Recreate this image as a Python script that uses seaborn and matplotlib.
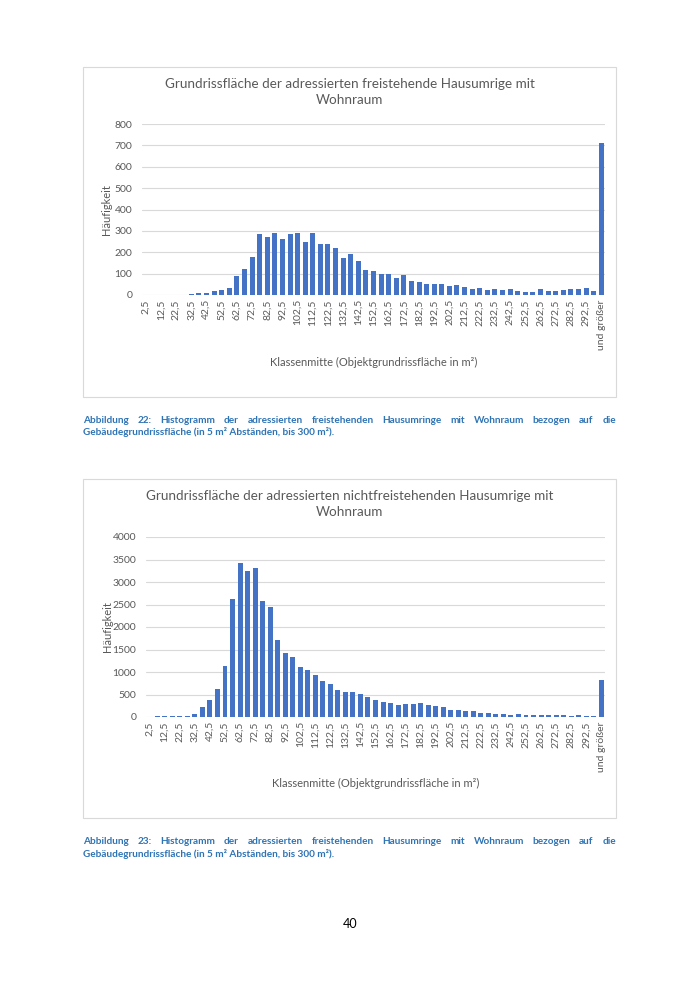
import numpy as np
import pandas as pd
import matplotlib
matplotlib.use("Agg")
import matplotlib.pyplot as plt
import matplotlib.patches as patches
import seaborn as sns

# ---- data ----
CLASSES = [f"{m:.1f}".replace(".", ",") for m in np.arange(2.5, 300, 5)] + ["und größer"]

FREI = [0, 0, 0, 0, 0, 0, 6, 8, 9, 17, 25, 33, 90, 123, 178, 284, 270, 292, 262, 287,
        292, 250, 290, 240, 237, 220, 172, 192, 159, 119, 112, 100, 100, 78, 92, 66,
        59, 51, 51, 51, 41, 47, 39, 28, 33, 22, 28, 23, 28, 17, 16, 14, 28, 19, 17,
        25, 28, 27, 33, 20, 713]

NICHTFREI = [5, 15, 15, 22, 22, 30, 67, 215, 386, 616, 1135, 2619, 3413, 3235, 3302,
             2575, 2441, 1707, 1417, 1328, 1106, 1039, 935, 809, 742, 608, 556, 564,
             512, 438, 386, 326, 312, 267, 282, 289, 312, 267, 245, 223, 156, 156, 134,
             126, 96, 96, 74, 67, 52, 67, 45, 45, 45, 45, 37, 37, 30, 37, 22, 15, 816]

TITLE_1 = "Grundrissfläche der adressierten freistehende Hausumrige mit\nWohnraum"
TITLE_2 = "Grundrissfläche der adressierten nichtfreistehenden Hausumrige mit\nWohnraum"
XLABEL = "Klassenmitte (Objektgrundrissfläche in m²)"
YLABEL = "Häufigkeit"
CAP_1 = ["Abbildung 22:", "Histogramm der adressierten freistehenden Hausumringe mit Wohnraum bezogen auf die",
         "Gebäudegrundrissfläche (in 5 m² Abständen, bis 300 m²)."]
CAP_2 = ["Abbildung 23:", "Histogramm der adressierten freistehenden Hausumringe mit Wohnraum bezogen auf die",
         "Gebäudegrundrissfläche (in 5 m² Abständen, bis 300 m²)."]

BAR = "#4472C4"
GREY = "#595959"
CAPBLUE = "#2E74B5"

sns.set_theme(style="white")
plt.rcParams["font.family"] = ["Lato", "DejaVu Sans"]

W, H = 700, 990
fig = plt.figure(figsize=(W / 100, H / 100), dpi=100)


def fx(px):
    return px / W


def fy(py):
    return 1 - py / H


def draw_chart(values, title, box, plot, ymax, ystep, title_y, ylab_x, xlab_y):
    # chart frame
    bx0, by0, bx1, by1 = box
    fig.add_artist(patches.Rectangle((fx(bx0), fy(by1)), fx(bx1 - bx0), (by1 - by0) / H,
                                     transform=fig.transFigure, fill=False,
                                     edgecolor="#D9D9D9", lw=0.8))
    px0, py0, px1, py1 = plot
    ax = fig.add_axes([fx(px0), fy(py1), fx(px1 - px0), (py1 - py0) / H])
    df = pd.DataFrame({"klasse": CLASSES, "n": values})
    sns.barplot(data=df, x="klasse", y="n", color=BAR, width=0.66, ax=ax,
                saturation=1, edgecolor="none")
    ax.set_ylim(0, ymax)
    ax.set_xlim(-0.5, len(CLASSES) - 0.5)
    ax.set_yticks(np.arange(0, ymax + 1, ystep))
    ax.yaxis.grid(True, color="#D9D9D9", lw=0.8)
    ax.set_axisbelow(True)
    for s in ax.spines.values():
        s.set_visible(False)
    ticks = list(range(0, len(CLASSES), 2))
    ax.set_xticks(ticks)
    ax.set_xticklabels([CLASSES[i] for i in ticks], rotation=90)
    ax.tick_params(axis="both", length=0, colors=GREY, labelsize=7.5)
    ax.tick_params(axis="y", pad=7)
    ax.tick_params(axis="x", pad=3)
    ax.set_xlabel("")
    ax.set_ylabel("")
    cx = (bx0 + bx1) / 2
    fig.text(fx(cx), fy(title_y), title, ha="center", va="top", fontsize=9.7,
             color=GREY, linespacing=1.4)
    fig.text(fx(ylab_x), fy((py0 + py1) / 2), YLABEL, rotation=90, ha="center",
             va="center", fontsize=8, color=GREY)
    fig.text(fx((px0 + px1) / 2), fy(xlab_y), XLABEL, ha="center", va="center",
             fontsize=8, color=GREY)
    return ax


def caption(lines, y_first, y_second):
    kw = dict(fontsize=7.2, fontweight="bold", color=CAPBLUE, va="center")
    r = fig.canvas.get_renderer()
    words = lines[0].split(" ") + lines[1].split(" ")
    texts = [fig.text(0, fy(y_first), w, **kw) for w in words]
    widths = [t.get_window_extent(r).width for t in texts]
    x0, x1 = 83, 616
    gap = ((x1 - x0) - sum(widths)) / (len(words) - 1)
    x = x0
    for t, w in zip(texts, widths):
        t.set_x(fx(x))
        x += w + gap
    fig.text(fx(x0), fy(y_second), lines[2], **kw)


draw_chart(FREI, TITLE_1, (83, 67, 616, 397), (142, 124, 605, 295), 800, 100,
           78, 106, 362)
draw_chart(NICHTFREI, TITLE_2, (83, 479, 616, 818), (146, 537, 605, 717), 4000, 500,
           490, 107, 783)

caption(CAP_1, 420, 432)
caption(CAP_2, 841, 854)

fig.text(0.5, fy(924), "40", ha="center", va="center", fontsize=9, color="black")

fig.savefig("out.png", dpi=100, facecolor="white")
